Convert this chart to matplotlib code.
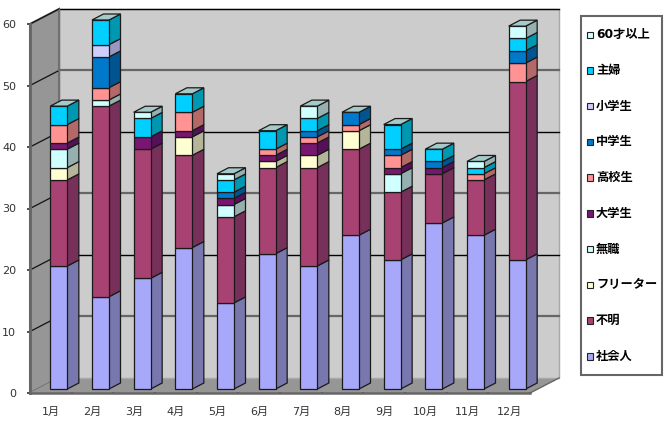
import matplotlib
matplotlib.use("Agg")
import matplotlib.pyplot as plt
from matplotlib.patches import Polygon, Patch, Rectangle
from matplotlib.legend_handler import HandlerPatch

plt.rcParams['font.family'] = ['DejaVu Sans', 'Noto Sans CJK JP']

months = ["1月", "2月", "3月", "4月", "5月", "6月", "7月", "8月", "9月", "10月", "11月", "12月"]

shakaijin = [20, 15, 18, 23, 14, 22, 20, 25, 21, 27, 25, 21]
fumei = [14, 31, 21, 15, 14, 14, 16, 14, 11, 8, 9, 29]
freeter = [2, 0, 0, 3, 0, 1, 2, 3, 0, 0, 0, 0]
mushoku = [3, 1, 0, 0, 2, 0, 0, 0, 3, 0, 0, 0]
daigaku = [1, 0, 2, 1, 1, 1, 2, 0, 1, 1, 0, 0]
koukou = [3, 2, 0, 3, 0, 1, 1, 1, 2, 0, 1, 3]
chuugaku = [0, 5, 0, 0, 1, 0, 1, 2, 1, 1, 0, 2]
shougaku = [0, 2, 0, 0, 0, 0, 0, 0, 0, 0, 0, 0]
shufu = [3, 4, 3, 3, 2, 3, 2, 0, 4, 2, 1, 2]
over60 = [0, 0, 1, 0, 1, 0, 2, 0, 0, 0, 1, 2]

names = ["社会人", "不明", "フリーター", "無職", "大学生", "高校生", "中学生", "小学生", "主婦", "60才以上"]
series = [shakaijin, fumei, freeter, mushoku, daigaku, koukou, chuugaku, shougaku, shufu, over60]
front_colors = ["#A8A8FA", "#A84272", "#FFFFD2", "#CFFFFF", "#781672", "#FF9292",
                "#0078CC", "#CECEFA", "#00CFFF", "#CFFFFF"]
side_colors = ["#7878AE", "#76305A", "#B5B59A", "#96B0B0", "#55105A", "#B56868",
               "#005590", "#9898C0", "#0098B0", "#98B0B0"]
top_color = "#A6CACA"

# depth of the fake 3d box, in data units
depth_x = 0.696
depth_y = 2.44
bar_width = 0.408

W, H = 671, 421
fig = plt.figure(figsize=(W / 100, H / 100), dpi=100)
ax = fig.add_axes([30 / W, (H - 393) / H, 500 / W, 369 / H])
ax.set_xlim(0, 12)
ax.set_ylim(0, 60)
ax.set_frame_on(False)


def shape(pts, color, edge, lw=1.0, z=1):
    ax.add_patch(Polygon(pts, closed=True, facecolor=color, edgecolor=edge, linewidth=lw,
                         zorder=z, clip_on=False, joinstyle="miter"))


def small_square(legend, orig_handle, xdescent, ydescent, width, height, fontsize):
    return Rectangle((-xdescent - 4.5, -ydescent + 0.2), 4.6, 4.6)


# walls and floor
shape([(0, 0), (depth_x, depth_y), (depth_x, 60 + depth_y), (0, 60)], "#969696", "#666666", 1.5)
shape([(0, 0), (12, 0), (12 + depth_x, depth_y), (depth_x, depth_y)], "#969696", "#969696", 0.5)
shape([(depth_x, depth_y), (12 + depth_x, depth_y), (12 + depth_x, 60 + depth_y), (depth_x, 60 + depth_y)],
      "#CCCCCC", "#A8A8A8", 1.0)

# grid lines run along the side wall and the back wall
for v in [10, 20, 30, 40, 50, 60]:
    back = "#000000" if v % 20 == 0 else "#666666"
    lw = 1.0 if v % 20 == 0 else 1.6
    ax.plot([0, depth_x], [v, v + depth_y], color="#111111", lw=0.9, zorder=2, clip_on=False)
    ax.plot([depth_x, 12 + depth_x], [v + depth_y, v + depth_y], color=back, lw=lw, zorder=2, clip_on=False)
ax.plot([0, 12], [0, 0], color="#666666", lw=1.8, zorder=2, clip_on=False)
ax.plot([0, 0], [0, 60], color="#666666", lw=2.0, zorder=2, clip_on=False)
ax.plot([depth_x, depth_x], [depth_y, 60 + depth_y], color="#707070", lw=1.0, zorder=2, clip_on=False)
ax.plot([12, 12 + depth_x], [0, depth_y], color="#666666", lw=1.0, zorder=2, clip_on=False)

# bars sit a bit behind the front of the floor
bar_dx = 8 / 41.67
bar_dy = 4 / 6.15
side_dx = 11.5 / 41.67
side_dy = 6 / 6.15
edge = "#1A1A1A"
for i in range(len(months)):
    x0 = i + 0.5 - bar_width / 2 + bar_dx
    x1 = x0 + bar_width
    bottom = bar_dy
    for s in range(len(series)):
        v = series[s][i]
        if v == 0:
            continue
        top = bottom + v
        z = 3 + i
        shape([(x1, bottom), (x1 + side_dx, bottom + side_dy), (x1 + side_dx, top + side_dy), (x1, top)],
              side_colors[s], edge, 0.9, z)
        shape([(x0, bottom), (x1, bottom), (x1, top), (x0, top)], front_colors[s], edge, 0.9, z)
        bottom = top
    shape([(x0, bottom), (x1, bottom), (x1 + side_dx, bottom + side_dy), (x0 + side_dx, bottom + side_dy)],
          top_color, edge, 0.9, 3 + i)

ax.set_yticks(range(0, 61, 10))
ax.set_xticks(range(0, 13))
ax.set_xticklabels([])
ax.set_xticks([i + 0.5 for i in range(12)], minor=True)
ax.set_xticklabels(months, minor=True)
ax.tick_params(axis="y", length=2, width=1.2, color="#333333", labelsize=8, labelcolor="#333333", pad=8)
ax.tick_params(axis="x", which="major", length=2, width=1.2, direction="inout", color="#444444")
ax.tick_params(axis="x", which="minor", length=0, labelsize=8, labelcolor="#333333", pad=10)

handles = [Patch(facecolor=front_colors[s], edgecolor="#222222", linewidth=0.8) for s in range(9, -1, -1)]
labels = [names[s] for s in range(9, -1, -1)]
leg = fig.legend(handles, labels, loc="upper left",
                 bbox_to_anchor=(581 / W, 1 - 375 / H, 81 / W, 359 / H), mode="expand",
                 borderaxespad=0, borderpad=1.0, fancybox=False, framealpha=1,
                 handlelength=0.7, handleheight=0.7, handletextpad=-0.47,
                 handler_map={Patch: HandlerPatch(patch_func=small_square)},
                 labelspacing=1.86, prop={"family": ["DejaVu Sans", "Noto Sans CJK JP"], "weight": "bold", "size": 8.8})
leg.get_frame().set_edgecolor("#666666")
leg.get_frame().set_linewidth(1.5)

fig.savefig("out.png", dpi=100, facecolor="white")
